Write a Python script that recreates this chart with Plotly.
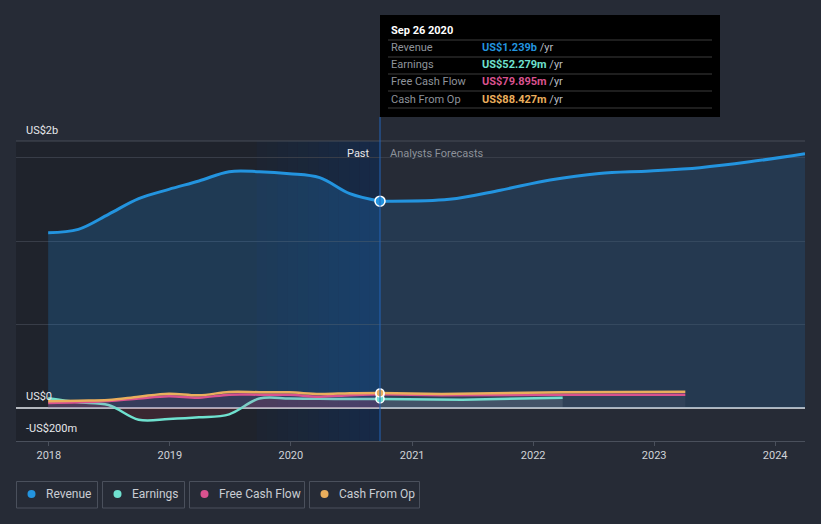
import plotly.graph_objects as go
import pandas as pd

# ---------------- data (billions US$) ----------------
past_dates = ["2017-12-30", "2018-03-31", "2018-06-30", "2018-09-29", "2018-12-29", "2019-03-30",
              "2019-06-29", "2019-09-28", "2019-12-28", "2020-03-28", "2020-06-27", "2020-09-26"]
revenue_past = [1.05, 1.07, 1.16, 1.254, 1.31, 1.36, 1.416, 1.416, 1.404, 1.38, 1.284, 1.239]
earnings_past = [0.056, 0.032, 0.016, -0.072, -0.068, -0.058, -0.04, 0.055, 0.055, 0.053, 0.052, 0.052279]
fcf_past = [0.028, 0.032, 0.04, 0.055, 0.068, 0.06, 0.078, 0.078, 0.077, 0.066, 0.075, 0.079895]
cfo_past = [0.038, 0.042, 0.046, 0.066, 0.084, 0.074, 0.094, 0.093, 0.092, 0.082, 0.087, 0.088427]

rev_fc_dates = ["2020-09-26", "2021-04-23", "2021-09-24", "2022-02-21", "2022-07-19",
                "2022-12-19", "2023-05-19", "2023-10-16", "2024-03-31"]
revenue_fc = [1.239, 1.25, 1.305, 1.366, 1.405, 1.42, 1.44, 1.475, 1.524]
earn_fc_dates = ["2020-09-26", "2021-06-01", "2022-03-31"]
earnings_fc = [0.052279, 0.047, 0.06]
cash_fc_dates = ["2020-09-26", "2021-03-31", "2022-03-31", "2023-04-05"]
fcf_fc = [0.079895, 0.074, 0.077, 0.078]
cfo_fc = [0.088427, 0.082, 0.093, 0.096]

hover_date = "2020-09-26"
hover_label = "Sep 26 2020"
series_names = ["Revenue", "Earnings", "Free Cash Flow", "Cash From Op"]
x_tick_labels = ["2018", "2019", "2020", "2021", "2022", "2023", "2024"]
y_labels = ["US$2b", "US$0", "-US$200m"]

# ---------------- styling ----------------
BG = "#262b36"
FONT = "Roboto, 'Open Sans', sans-serif"
C_REV = "#2394df"
C_EARN = "#6fe1cf"
C_FCF = "#d9528f"
C_CFO = "#eaae5c"
SM = 1.0

W, H = 821, 524
L, R, T, B = 16, 805, 141, 441


def px(x):
    return (x - L) / (R - L)


def py(y):
    return (B - y) / (B - T)


fig = go.Figure()

# revenue
fig.add_trace(go.Scatter(x=past_dates, y=revenue_past, mode="lines", fill="tozeroy",
                         fillcolor="rgba(33,150,243,0.20)",
                         line=dict(color=C_REV, width=3, shape="spline", smoothing=SM),
                         hoverinfo="skip"))
fig.add_trace(go.Scatter(x=rev_fc_dates, y=revenue_fc, mode="lines", fill="tozeroy",
                         fillcolor="rgba(33,150,243,0.14)",
                         line=dict(color=C_REV, width=3, shape="spline", smoothing=SM),
                         hoverinfo="skip"))

# past small series
fig.add_trace(go.Scatter(x=past_dates, y=earnings_past, mode="lines", fill="tozeroy",
                         fillcolor="rgba(200,60,80,0.16)",
                         line=dict(color=C_EARN, width=2.5, shape="spline", smoothing=SM),
                         hoverinfo="skip"))
fig.add_trace(go.Scatter(x=past_dates, y=fcf_past, mode="lines", fill="tozeroy",
                         fillcolor="rgba(207,78,138,0.13)",
                         line=dict(color=C_FCF, width=2.5, shape="spline", smoothing=SM),
                         hoverinfo="skip"))
fig.add_trace(go.Scatter(x=past_dates, y=cfo_past, mode="lines",
                         line=dict(color=C_CFO, width=2.5, shape="spline", smoothing=SM),
                         hoverinfo="skip"))

# forecasts
fig.add_trace(go.Scatter(x=earn_fc_dates, y=earnings_fc, mode="lines", fill="tozeroy",
                         fillcolor="rgba(200,205,215,0.13)",
                         line=dict(color=C_EARN, width=2.5), opacity=0.9, hoverinfo="skip"))
fig.add_trace(go.Scatter(x=cash_fc_dates, y=fcf_fc, mode="lines", fill="tozeroy",
                         fillcolor="rgba(200,180,200,0.07)",
                         line=dict(color=C_FCF, width=2.5), hoverinfo="skip"))
fig.add_trace(go.Scatter(x=cash_fc_dates, y=cfo_fc, mode="lines",
                         line=dict(color=C_CFO, width=2.5), hoverinfo="skip"))

# hover markers
for val, col, size in [(fcf_past[-1], C_FCF, 8), (earnings_past[-1], C_EARN, 8),
                       (cfo_past[-1], C_CFO, 8), (revenue_past[-1], C_REV, 10)]:
    fig.add_trace(go.Scatter(x=[hover_date], y=[val], mode="markers",
                             marker=dict(color=col, size=size, line=dict(color="white", width=1.5)),
                             hoverinfo="skip"))

shapes = []
# dark "past" region
shapes.append(dict(type="rect", xref="x", yref="paper", x0="2017-09-24", x1=hover_date, y0=0, y1=1,
                   fillcolor="rgba(0,0,0,0.18)", line=dict(width=0), layer="below"))
# blue highlight gradient (last year before hover)
edges = pd.date_range("2019-09-20", hover_date, periods=13)
for i in range(12):
    a = 0.05 + 0.24 * (i + 0.5) / 12
    shapes.append(dict(type="rect", xref="x", yref="paper", x0=edges[i], x1=edges[i + 1], y0=0, y1=1,
                       fillcolor=f"rgba(0,62,145,{a:.3f})", line=dict(width=0), layer="below"))
# top line
shapes.append(dict(type="line", xref="paper", yref="paper", x0=0, x1=1, y0=1, y1=1,
                   line=dict(color="#474c57", width=1), layer="below"))
# hover vertical line
shapes.append(dict(type="line", xref="x", yref="paper", x0=hover_date, x1=hover_date, y0=0, y1=py(117),
                   line=dict(color="#2364b8", width=1), layer="above"))
# tooltip box
shapes.append(dict(type="rect", xref="paper", yref="paper", x0=px(380), x1=px(720), y0=py(117), y1=py(15),
                   fillcolor="#000000", line=dict(width=0), layer="above"))
for yy in [40, 57, 74, 91, 108]:
    shapes.append(dict(type="line", xref="paper", yref="paper", x0=px(388), x1=px(712), y0=py(yy), y1=py(yy),
                       line=dict(color="#3c3c3c", width=1), layer="above"))

annotations = []


def ann(text, x, y, color, size=11, xanchor="left", bold=False):
    annotations.append(dict(text=f"<b>{text}</b>" if bold else text, x=px(x), y=py(y), xref="paper", yref="paper",
                            xanchor=xanchor, yanchor="middle", showarrow=False,
                            font=dict(color=color, size=size, family=FONT)))


# tooltip texts
ann(hover_label, 389, 31, "#ffffff", 11, bold=True)
values = [f"US${revenue_past[-1]:.3f}b", f"US${earnings_past[-1] * 1000:.3f}m",
          f"US${fcf_past[-1] * 1000:.3f}m", f"US${cfo_past[-1] * 1000:.3f}m"]
cols = [C_REV, C_EARN, C_FCF, C_CFO]
for i, (nm, v, c) in enumerate(zip(series_names, values, cols)):
    yy = 48 + 17 * i
    ann(nm, 389, yy, "#8e939b", 11)
    ann(f"<span style='color:{c}'><b>{v}</b></span> /yr", 480, yy, "#b8bcc2", 11)

# y labels
ann(y_labels[0], 24, 130, "#e6e8eb", 11)
ann(y_labels[1], 24, 396, "#e6e8eb", 11)
ann(y_labels[2], 24, 428, "#e6e8eb", 11)

# past / forecast labels
ann("Past", 372, 153, "#e8e8e8", 11, xanchor="right")
ann("Analysts Forecasts", 388, 153, "#8c9199", 11)

# legend boxes
boxes = [(16.5, 97.5), (102.5, 184.5), (189.5, 304.5), (309.5, 419.5)]
for (x0, x1), nm, c in zip(boxes, series_names, cols):
    shapes.append(dict(type="rect", xref="paper", yref="paper", x0=px(x0), x1=px(x1), y0=py(508), y1=py(481.5),
                       line=dict(color="#4a505c", width=1), fillcolor="rgba(0,0,0,0)", layer="above"))
    shapes.append(dict(type="circle", xref="paper", yref="paper", x0=px(x0 + 11), x1=px(x0 + 19),
                       y0=py(498), y1=py(490), fillcolor=c, line=dict(width=0), layer="above"))
    ann(nm, x0 + 27.5, 494.5, "#c9cdd3", 12)

fig.update_layout(
    width=W, height=H,
    margin=dict(l=L, r=W - R, t=T, b=H - B),
    paper_bgcolor=BG, plot_bgcolor=BG,
    showlegend=False,
    font=dict(family=FONT, color="#d0d3d8", size=11),
    shapes=shapes, annotations=annotations,
    xaxis=dict(type="date", range=["2017-09-24", "2024-03-31"],
               tickvals=[f"{y}-01-01" for y in x_tick_labels], ticktext=x_tick_labels,
               showgrid=False, zeroline=False, showline=True, linecolor="#4a505c", linewidth=1,
               ticks="outside", ticklen=4, tickcolor="#4a505c",
               tickfont=dict(size=11, color="#d0d3d8", family=FONT), fixedrange=True),
    yaxis=dict(range=[-0.2, 1.6], tickvals=[0.5, 1.0, 1.5], showticklabels=False,
               showgrid=True, gridcolor="#383d48", gridwidth=1,
               zeroline=True, zerolinecolor="#b4b8be", zerolinewidth=2,
               showline=False, fixedrange=True),
)

fig.write_html("out.html", config={"displayModeBar": False},
               post_script="document.body.style.margin='0';document.body.style.background='#262b36';")
